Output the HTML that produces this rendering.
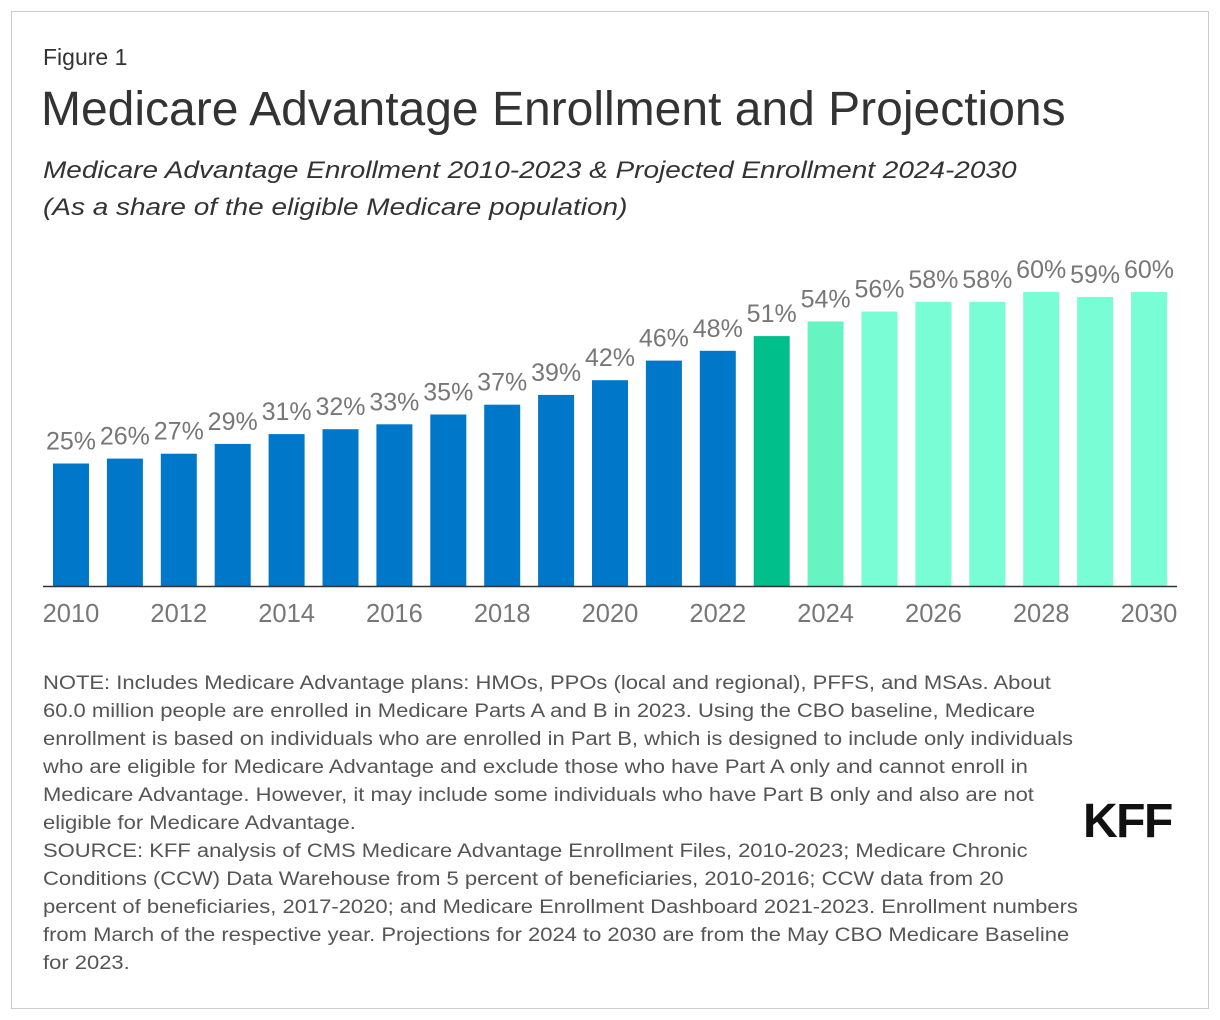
<!DOCTYPE html>
<html><head><meta charset="utf-8"><style>
body{margin:0;background:#fff;font-family:"Liberation Sans",Arial,sans-serif;}
#frame{position:absolute;left:11px;top:11px;width:1196px;height:996px;border:1px solid #ccc;}
.t{position:absolute;color:#333;white-space:nowrap;}
</style></head><body>
<div id="frame"></div>
<div class="t" style="left:43px;top:44px;font-size:23px;">Figure 1</div>
<div class="t" style="left:41px;top:82px;font-size:48px;color:#333;">Medicare Advantage Enrollment and Projections</div>
<div class="t" style="left:43px;top:152px;font-size:24px;font-style:italic;line-height:37px;transform:scale(1.165,1);transform-origin:0 0;">Medicare Advantage Enrollment 2010-2023 &amp; Projected Enrollment 2024-2030<br>(As a share of the eligible Medicare population)</div>
<svg id="chart" width="1220" height="660" style="position:absolute;left:0;top:0"></svg>
<div class="t" style="left:43px;top:670px;font-size:19.3px;line-height:28px;color:#555;transform:scale(1.14,1);transform-origin:0 0;">NOTE: Includes Medicare Advantage plans: HMOs, PPOs (local and regional), PFFS, and MSAs. About<br>60.0 million people are enrolled in Medicare Parts A and B in 2023. Using the CBO baseline, Medicare<br>enrollment is based on individuals who are enrolled in Part B, which is designed to include only individuals<br>who are eligible for Medicare Advantage and exclude those who have Part A only and cannot enroll in<br>Medicare Advantage. However, it may include some individuals who have Part B only and also are not<br>eligible for Medicare Advantage.<br>SOURCE: KFF analysis of CMS Medicare Advantage Enrollment Files, 2010-2023; Medicare Chronic<br>Conditions (CCW) Data Warehouse from 5 percent of beneficiaries, 2010-2016; CCW data from 20<br>percent of beneficiaries, 2017-2020; and Medicare Enrollment Dashboard 2021-2023. Enrollment numbers<br>from March of the respective year. Projections for 2024 to 2030 are from the May CBO Medicare Baseline<br>for 2023.</div>
<div class="t" style="left:1083px;top:794px;font-size:48px;font-weight:bold;color:#111;letter-spacing:-1.5px;">KFF</div>
<script>
const years=[2010,2011,2012,2013,2014,2015,2016,2017,2018,2019,2020,2021,2022,2023,2024,2025,2026,2027,2028,2029,2030];
const values=[25,26,27,29,31,32,33,35,37,39,42,46,48,51,54,56,58,58,60,59,60];
const tickYears=[2010,2012,2014,2016,2018,2020,2022,2024,2026,2028,2030];
const svg=document.getElementById('chart');
const NS='http://www.w3.org/2000/svg';
const x0=71,step=53.9,bw=36,base=586,k=4.9;
const xs=i=>x0+i*step;
const ys=v=>base-v*k;
function color(y){if(y<2023)return '#0077c8';if(y===2023)return '#00bf8a';if(y===2024)return '#66f5c2';return '#78fdd4';}
years.forEach((y,i)=>{
 const r=document.createElementNS(NS,'rect');
 
 
 r.setAttribute('x',xs(i)-bw/2);r.setAttribute('y',ys(values[i]));
 r.setAttribute('width',bw);r.setAttribute('height',values[i]*k);
 r.setAttribute('fill',color(y));svg.appendChild(r);
 const t=document.createElementNS(NS,'text');
 
 
 t.setAttribute('x',xs(i));t.setAttribute('y',ys(values[i])-14);
 t.setAttribute('text-anchor','middle');t.setAttribute('font-size','25');
 t.setAttribute('fill','#777');t.setAttribute('font-family','Liberation Sans, Arial, sans-serif');
 t.textContent=values[i]+'%';svg.appendChild(t);
});
const ax=document.createElementNS(NS,'line');


ax.setAttribute('x1',43);ax.setAttribute('x2',1177);ax.setAttribute('y1',base+0.5);ax.setAttribute('y2',base+0.5);
ax.setAttribute('stroke','#333');ax.setAttribute('stroke-width','1.5');svg.appendChild(ax);
tickYears.forEach(y=>{
 const i=years.indexOf(y);
 const t=document.createElementNS(NS,'text');
 
 
 t.setAttribute('x',xs(i));t.setAttribute('y',622);
 t.setAttribute('text-anchor','middle');t.setAttribute('font-size','25.5');
 t.setAttribute('fill','#777');t.setAttribute('font-family','Liberation Sans, Arial, sans-serif');
 t.textContent=y;svg.appendChild(t);
});
</script>
</body></html>
